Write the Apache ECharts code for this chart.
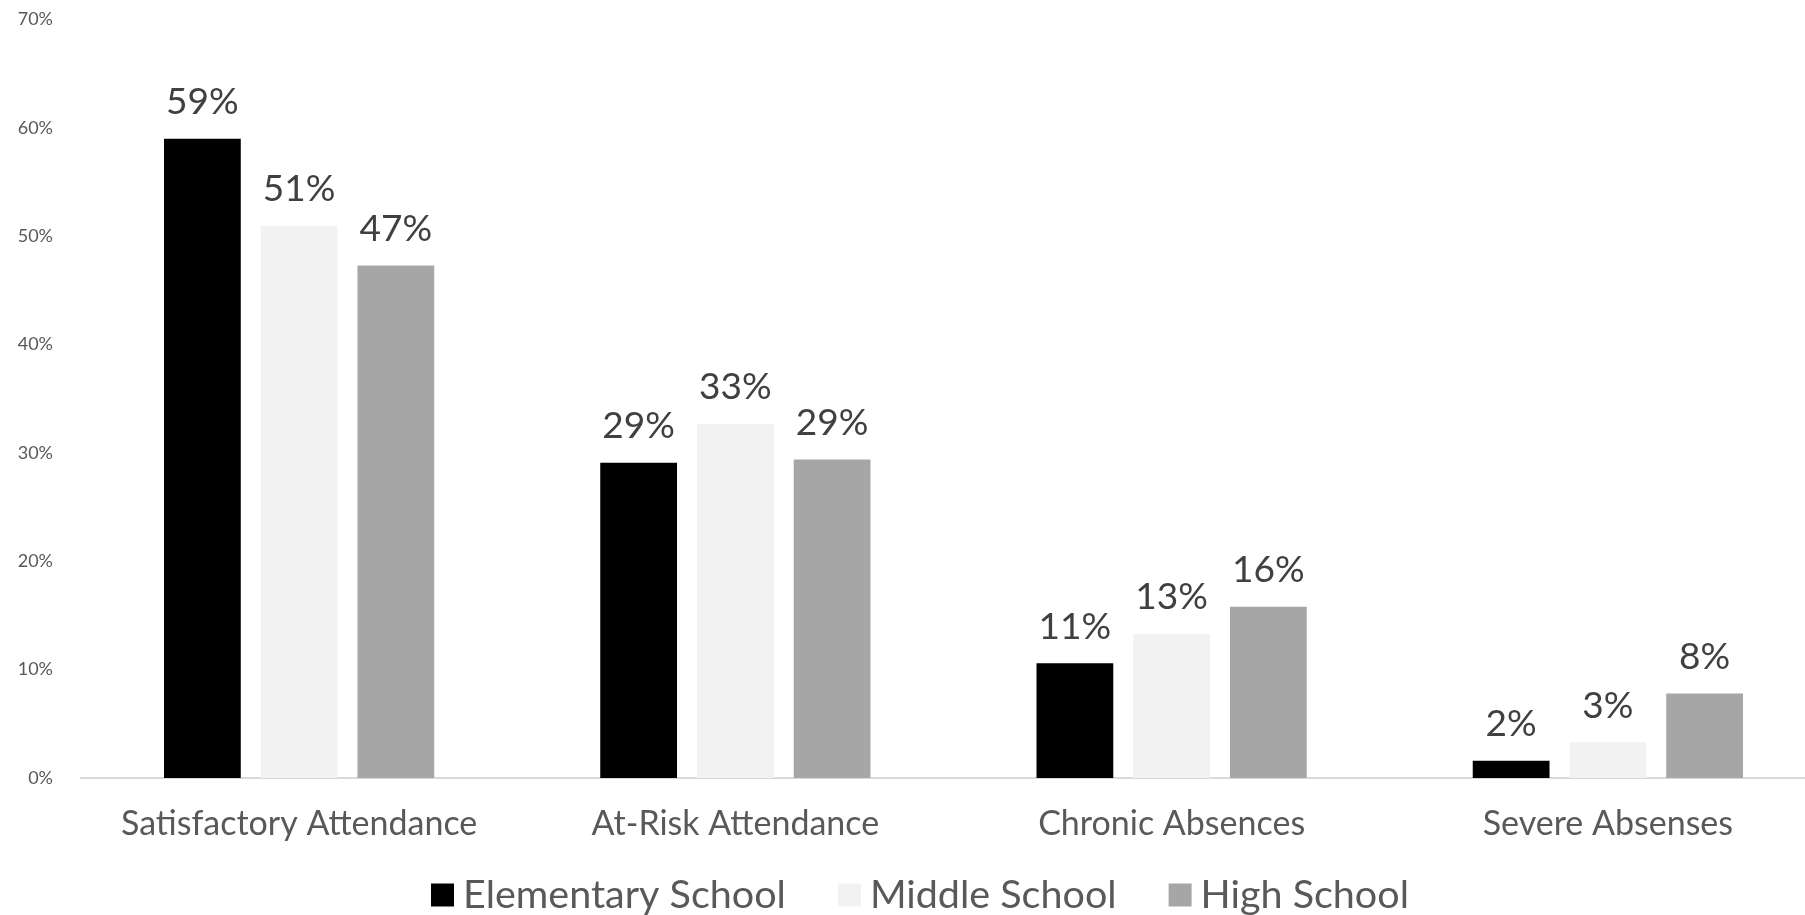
<!DOCTYPE html>
<html>
<head>
<meta charset="utf-8">
<title>Attendance by School Level</title>
<script src="https://cdn.jsdelivr.net/npm/echarts@6/dist/echarts.min.js"></script>
<style>
  html, body { margin: 0; padding: 0; background: #ffffff; }
  #chart { width: 1805px; height: 915px; }
</style>
</head>
<body>
<div id="chart"></div>
<script>
// Attendance categories on the x axis
const categories = ['Satisfactory Attendance', 'At-Risk Attendance', 'Chronic Absences', 'Severe Absenses'];

// Share of students (percent) in each category, by school level
const elementary = [59.0, 29.1, 10.6, 1.6];
const middle     = [51.0, 32.7, 13.3, 3.3];
const high       = [47.3, 29.4, 15.8, 7.8];

const seriesNames = ['Elementary School', 'Middle School', 'High School'];
const seriesColors = ['#000000', '#f2f2f2', '#a6a6a6'];

const FONT = 'Lato, "Open Sans", sans-serif';

const chart = echarts.init(document.getElementById('chart'), null, { renderer: 'canvas' });

function barSeries(name, data, color) {
  return {
    name: name,
    type: 'bar',
    data: data,
    barWidth: '17.6%',
    barGap: '26%',
    itemStyle: { color: color },
    label: {
      show: true,
      position: 'top',
      distance: 18,
      color: '#404040',
      fontFamily: FONT,
      fontSize: 37,
      formatter: p => Math.round(p.value) + '%'
    }
  };
}

chart.setOption({
  backgroundColor: '#ffffff',
  animation: false,
  // plot area runs a little past the right edge of the canvas
  grid: { left: 81, width: 1745, top: 19.5, bottom: 137, outerBoundsMode: 'none' },
  legend: {
    bottom: -5,
    left: 426,
    itemWidth: 23,
    itemHeight: 23,
    itemGap: 52,
    icon: 'rect',
    textStyle: { color: '#595959', fontFamily: FONT, fontSize: 39.5, padding: [0, 0, 0, 4] },
    data: seriesNames
  },
  xAxis: {
    type: 'category',
    data: categories,
    axisLine: { show: true, lineStyle: { color: '#d9d9d9', width: 2 } },
    axisTick: { show: false },
    axisLabel: { interval: 0, color: '#595959', fontFamily: FONT, fontSize: 34, margin: 29 }
  },
  yAxis: {
    type: 'value',
    min: 0,
    max: 70,
    interval: 10,
    splitLine: { show: false },
    axisLine: { show: false },
    axisTick: { show: false },
    axisLabel: {
      color: '#595959',
      fontFamily: FONT,
      fontSize: 18,
      margin: 28,
      formatter: v => v + '%'
    }
  },
  series: [
    barSeries(seriesNames[0], elementary, seriesColors[0]),
    barSeries(seriesNames[1], middle, seriesColors[1]),
    barSeries(seriesNames[2], high, seriesColors[2])
  ]
});
</script>
</body>
</html>
